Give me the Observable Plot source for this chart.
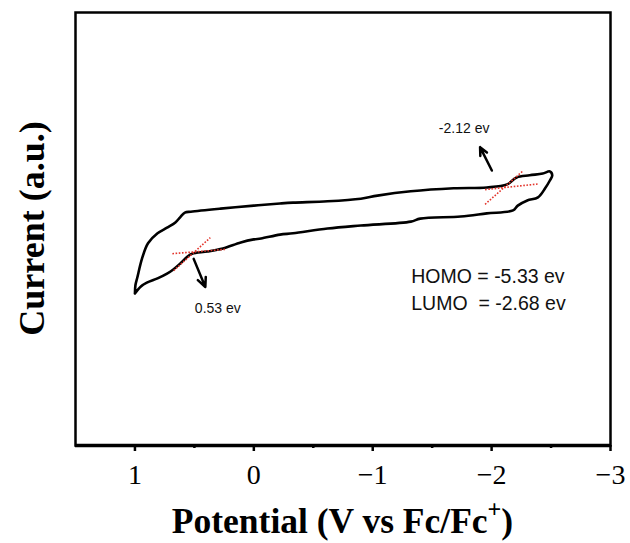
<!DOCTYPE html>
<html>
<head>
<meta charset="utf-8">
<script src="https://cdn.jsdelivr.net/npm/d3@7"></script>
<script src="https://cdn.jsdelivr.net/npm/@observablehq/plot@0.6"></script>
<style>
  html, body { margin: 0; padding: 0; background: #fff; }
  #chart svg { display: block; }
</style>
</head>
<body>
<div id="chart"></div>
<script>
// Cyclic voltammogram (closed loop), potential in V vs Fc/Fc+, current in a.u.
const potential = [1.00, 0.996, 0.98, 0.94, 0.89, 0.81, 0.73, 0.66, 0.62, 0.58, 0.53, 0.28, 0.00, -0.22, -0.33, -0.62, -0.90, -1.04, -1.32, -1.68, -1.96, -2.13, -2.21, -2.32, -2.43, -2.49, -2.51, -2.49, -2.45, -2.39, -2.30, -2.22, -2.18, -1.96, -1.74, -1.40, -1.32, -0.90, -0.62, -0.33, -0.22, -0.06, 0.00, 0.11, 0.26, 0.39, 0.52, 0.56, 0.62, 0.68, 0.73, 0.81, 0.90, 0.95, 1.00];
const current = [3.51, 3.70, 3.88, 4.32, 4.67, 4.90, 5.03, 5.15, 5.27, 5.38, 5.40, 5.47, 5.54, 5.59, 5.61, 5.64, 5.70, 5.77, 5.87, 5.94, 5.96, 6.03, 6.19, 6.24, 6.28, 6.33, 6.24, 6.12, 5.94, 5.73, 5.66, 5.54, 5.43, 5.36, 5.29, 5.24, 5.17, 5.08, 5.01, 4.90, 4.87, 4.78, 4.76, 4.69, 4.55, 4.48, 4.43, 4.36, 4.20, 4.06, 3.97, 3.86, 3.76, 3.67, 3.51];

// Onset tangent lines (red dotted)
const tangentX1 = [0.685, 0.674, -1.945, -1.945];
const tangentY1 = [4.43, 4.04, 5.91, 5.57];
const tangentX2 = [0.239, 0.366, -2.393, -2.267];
const tangentY2 = [4.53, 4.80, 6.04, 6.35];

// Arrows
const arrowX1 = [0.506, -2.002];
const arrowY1 = [4.31, 6.35];
const arrowX2 = [0.408, -1.903];
const arrowY2 = [3.66, 6.89];

// Onset labels
const onsetLabels = ["0.53 ev", "-2.12 ev"];
const onsetX = [0.303, -1.769];
const onsetY = [3.16, 7.32];

// Energy level labels
const levelLabels = ["HOMO = -5.33 ev", "LUMO  = -2.68 ev"];
const levelX = [-1.324, -1.324];
const levelY = [3.90, 3.28];

const majorTicks = [1, 0, -1, -2, -3];
const minorTicks = [0.5, -0.5, -1.5, -2.5];

const loop = potential.map((v, i) => ({v, c: current[i]}));
const tangents = tangentX1.map((_, i) => ({x1: tangentX1[i], y1: tangentY1[i], x2: tangentX2[i], y2: tangentY2[i]}));
const arrows = arrowX1.map((_, i) => ({x1: arrowX1[i], y1: arrowY1[i], x2: arrowX2[i], y2: arrowY2[i]}));
const onset = onsetLabels.map((t, i) => ({t, x: onsetX[i], y: onsetY[i]}));
const levels = levelLabels.map((t, i) => ({t, x: levelX[i], y: levelY[i]}));

const W = 630, H = 543;
const chart = Plot.plot({
  width: W,
  height: H,
  marginLeft: 75,
  marginRight: 20,
  marginTop: 12,
  marginBottom: 98,
  style: {fontFamily: "Liberation Serif", background: "#fff", color: "#000", overflow: "visible"},
  x: {domain: [1.5, -3], axis: null},
  y: {domain: [0, 10], axis: null},
  marks: [
    Plot.frame({stroke: "#000", strokeWidth: 2.5}),
    Plot.axisX({ticks: majorTicks, tickFormat: d3.format("d"), tickSize: 6, tickPadding: 13, fontSize: 28, strokeWidth: 2.5, label: null, fontFamily: "Liberation Serif"}),
    Plot.axisX({ticks: minorTicks, tickSize: 3, text: null, strokeWidth: 2.5, label: null}),
    Plot.ruleY([0], {stroke: "#000", strokeWidth: 3.5}),
    Plot.line(loop, {x: "v", y: "c", stroke: "#000", strokeWidth: 2.6, curve: "catmull-rom", strokeLinejoin: "round"}),
    Plot.link(tangents, {x1: "x1", y1: "y1", x2: "x2", y2: "y2", stroke: "#e3342b", strokeWidth: 1.6, strokeDasharray: "1.6,1.6"}),
    Plot.arrow(arrows, {x1: "x1", y1: "y1", x2: "x2", y2: "y2", stroke: "#000", strokeWidth: 2.5, headLength: 11, headAngle: 50}),
    Plot.text(onset, {x: "x", y: "y", text: "t", fontSize: 14, fontFamily: "Liberation Sans", fill: "#111"}),
    Plot.text(levels, {x: "x", y: "y", text: "t", textAnchor: "start", fontSize: 19.5, fontFamily: "Liberation Sans", fill: "#111"})
  ]
});

document.getElementById("chart").appendChild(chart);

// Axis titles (bold serif); x title built from three text pieces so the "+" is a superscript
const svg = d3.select(chart);
const cx = (75 + (W - 20)) / 2, baseY = 533, fs = 35.5;
const title = svg.append("g")
  .attr("font-family", "Liberation Serif")
  .attr("font-weight", "bold")
  .attr("text-anchor", "start")
  .attr("fill", "#000");
const p1 = title.append("text").attr("y", baseY).attr("font-size", fs).text("Potential (V vs Fc/Fc");
const p2 = title.append("text").attr("y", baseY - fs * 0.42).attr("font-size", fs * 0.68).text("+");
const p3 = title.append("text").attr("y", baseY).attr("font-size", fs).text(")");
const w1 = p1.node().getComputedTextLength();
const w2 = p2.node().getComputedTextLength();
const w3 = p3.node().getComputedTextLength();
const x0 = cx - (w1 + w2 + w3) / 2;
p1.attr("x", x0);
p2.attr("x", x0 + w1);
p3.attr("x", x0 + w1 + w2);

svg.append("text")
  .attr("transform", `translate(32,${(12 + 445) / 2}) rotate(-90)`)
  .attr("text-anchor", "middle")
  .attr("dominant-baseline", "central")
  .attr("font-family", "Liberation Serif")
  .attr("font-weight", "bold")
  .attr("font-size", 36)
  .attr("fill", "#000")
  .text("Current (a.u.)");
</script>
</body>
</html>
